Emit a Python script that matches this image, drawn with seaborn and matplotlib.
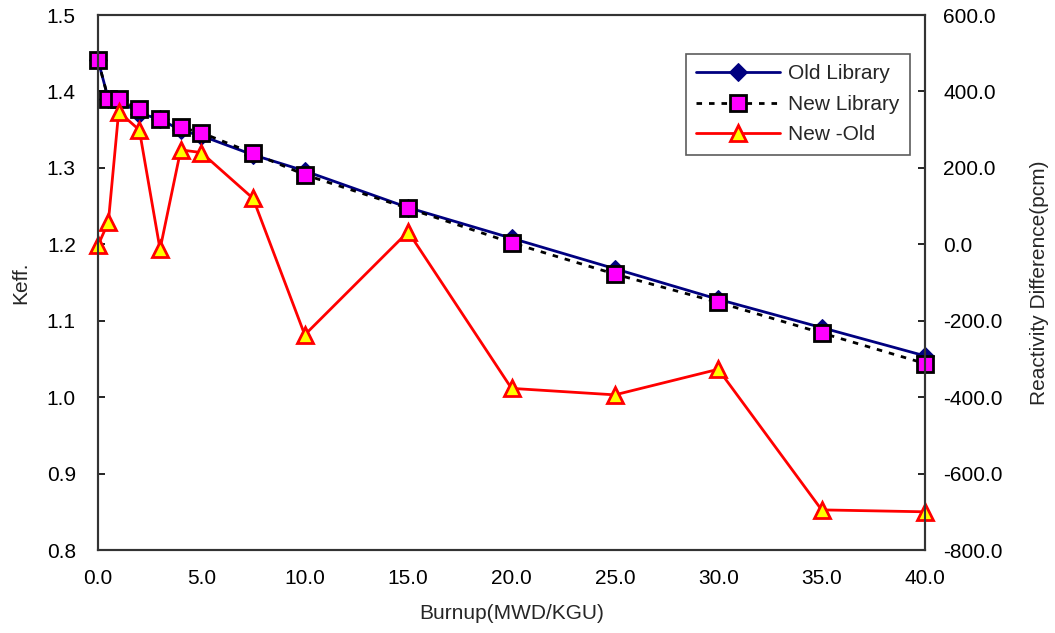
import matplotlib
matplotlib.use("Agg")
import matplotlib.pyplot as plt
import numpy as np
import seaborn as sns
from matplotlib.ticker import FormatStrFormatter

burnup = [0.0, 0.5, 1.0, 2.0, 3.0, 4.0, 5.0, 7.5, 10.0, 15.0, 20.0, 25.0, 30.0, 35.0, 40.0]
keff_old = [1.441, 1.390, 1.389, 1.371, 1.364, 1.349, 1.342, 1.317, 1.296, 1.248,
            1.208, 1.168, 1.128, 1.091, 1.054]
keff_new = [1.441, 1.390, 1.390, 1.377, 1.364, 1.353, 1.346, 1.319, 1.291, 1.247,
            1.202, 1.161, 1.124, 1.084, 1.044]
diff_pcm = [-3, 58, 347, 299, -13, 247, 240, 120, -237, 33, -377, -394, -327, -695, -700]

sns.set_style("white")
plt.rcParams['font.family'] = ['Liberation Sans', 'DejaVu Sans']
plt.rcParams['axes.unicode_minus'] = False

fs = 15

fig, ax = plt.subplots(figsize=(10.55, 6.33), dpi=100)
fig.subplots_adjust(left=0.0929, right=0.8768, top=0.9763, bottom=0.1311)
ax2 = ax.twinx()

sns.lineplot(x=burnup, y=keff_old, ax=ax, color='#000080', lw=2, marker='D', ms=9,
             mfc='#000080', mec='#000080', label='Old Library', clip_on=False, legend=False)
sns.lineplot(x=burnup, y=keff_new, ax=ax, color='black', lw=2, linestyle=(0, (2, 2.5)),
             marker='s', ms=11, mfc='#FF00FF', mec='black', mew=2, label='New Library',
             clip_on=False, legend=False)
sns.lineplot(x=burnup, y=diff_pcm, ax=ax2, color='#FF0000', lw=2, marker='^', ms=11,
             mfc='#FFFF00', mec='#FF0000', mew=2, label='New -Old', clip_on=False, legend=False)

ax.set_xlim(0, 40)
ax.set_ylim(0.8, 1.5)
ax2.set_ylim(-800, 600)
ax.set_xticks(np.arange(0, 40.1, 5))
ax.set_yticks(np.arange(0.8, 1.51, 0.1))
ax2.set_yticks(np.arange(-800, 601, 200))
ax.xaxis.set_major_formatter(FormatStrFormatter('%.1f'))
ax.yaxis.set_major_formatter(FormatStrFormatter('%.1f'))
ax2.yaxis.set_major_formatter(FormatStrFormatter('%.1f'))

for a in (ax, ax2):
    a.tick_params(direction='in', length=5, width=1.2, colors='black', labelsize=fs)
    for s in a.spines.values():
        s.set_color('#333333')
        s.set_linewidth(1.5)
ax.tick_params(axis='y', pad=16)
ax.tick_params(axis='x', pad=14)
ax2.tick_params(axis='y', pad=13)

ax.set_xlabel('Burnup(MWD/KGU)', fontsize=fs, labelpad=11)
ax.set_ylabel('Keff.', fontsize=fs, labelpad=12)
ax2.set_ylabel('Reactivity Difference(pcm)', fontsize=fs, labelpad=20)

h1, l1 = ax.get_legend_handles_labels()
h2, l2 = ax2.get_legend_handles_labels()
leg = ax2.legend(h1 + h2, l1 + l2, loc='upper left', bbox_to_anchor=(0.711, 0.927),
                 fontsize=fs, handlelength=4.0, frameon=True, fancybox=False,
                 borderpad=0.5, labelspacing=0.55, handletextpad=0.4, borderaxespad=0)
leg.get_frame().set_edgecolor('#333333')
leg.get_frame().set_linewidth(1.2)

fig.savefig('out.png', dpi=100)
